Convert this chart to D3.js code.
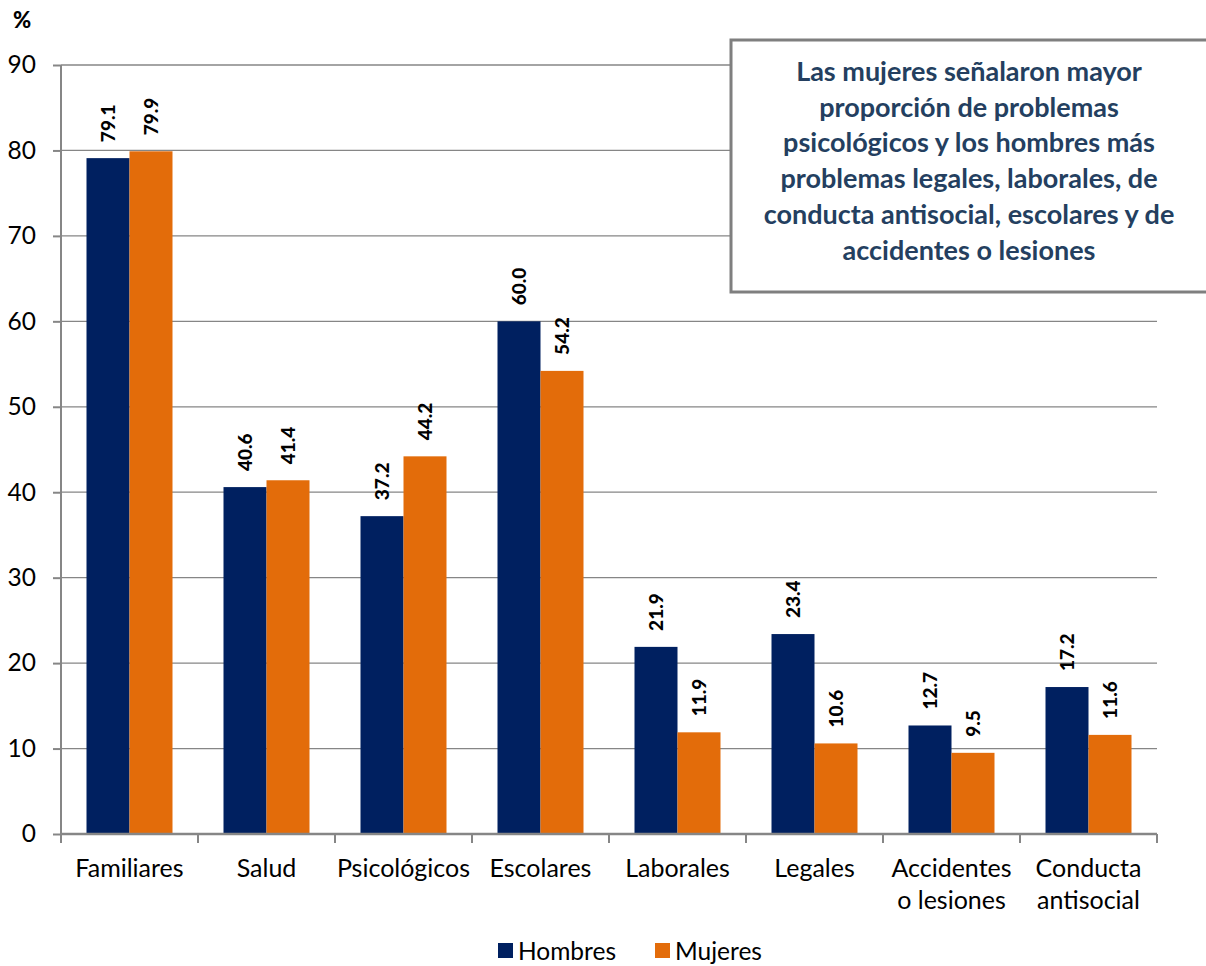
<!DOCTYPE html>
<html><head><meta charset="utf-8">
<script src="https://cdn.jsdelivr.net/npm/d3@7"></script>
<style>body{margin:0;background:#fff}svg{display:block;font-family:Lato,"Open Sans",sans-serif}</style>
</head><body>
<svg id="c" width="1206" height="966"></svg>
<script>
const categories = ["Familiares","Salud","Psicológicos","Escolares","Laborales","Legales","Accidentes\no lesiones","Conducta\nantisocial"];
const seriesNames = ["Hombres","Mujeres"];
const hombres = [79.1,40.6,37.2,60.0,21.9,23.4,12.7,17.2];
const mujeres = [79.9,41.4,44.2,54.2,11.9,10.6,9.5,11.6];
const yTicks = [0,10,20,30,40,50,60,70,80,90];
const annotation = ["Las mujeres señalaron mayor","proporción de problemas","psicológicos y los hombres más","problemas legales, laborales, de","conducta antisocial, escolares y de","accidentes o lesiones"];
const colors = ["#002060","#E36C0A"];

const svg = d3.select("#c");
const L = 61, R = 1157, T = 65, B = 834;
const y = d3.scaleLinear().domain([0,90]).range([B,T]);
const x = d3.scaleBand().domain(categories).range([L,R]).paddingInner(0).paddingOuter(0);
const bw = 43;
const xs = d3.scaleBand().domain(seriesNames).range([0, 2*bw]);
const off = (x.bandwidth() - 2*bw)/2;
const grey = "#868686";

// gridlines
svg.append("g").selectAll("line").data(yTicks.filter(d=>d>0)).join("line")
  .attr("x1",L).attr("x2",R).attr("y1",d=>y(d)).attr("y2",d=>y(d))
  .attr("stroke",grey).attr("stroke-width",1.3);

// bars
const data = [hombres, mujeres];
data.forEach((vals,si)=>{
  svg.append("g").selectAll("rect").data(vals).join("rect")
    .attr("x",(d,i)=>x(categories[i])+off+xs(seriesNames[si]))
    .attr("width",bw)
    .attr("y",d=>y(d)).attr("height",d=>B-y(d))
    .attr("fill",colors[si]);
  svg.append("g").selectAll("text").data(vals).join("text")
    .attr("transform",(d,i)=>`translate(${x(categories[i])+off+xs(seriesNames[si])+bw/2+7},${y(d)-16}) rotate(-90)`)
    .attr("font-weight","900").attr("font-size",19).attr("fill","#000")
    .text(d=>d.toFixed(1));
});

// y axis
const ya = svg.append("g").attr("transform",`translate(${L},0)`)
  .call(d3.axisLeft(y).tickValues(yTicks).tickSize(8).tickPadding(17).tickFormat(d3.format("d")));
ya.selectAll("line,path").attr("stroke",grey).attr("stroke-width",2);
ya.select(".domain").attr("d",`M0,${T}V${B}`);
ya.selectAll("text").attr("font-size",24.5).attr("fill","#000").attr("font-family","Lato");

// x axis
const xa = svg.append("g").attr("transform",`translate(0,${B})`);
xa.append("line").attr("x1",L).attr("x2",R).attr("y1",0).attr("y2",0).attr("stroke",grey).attr("stroke-width",2.5);
const bounds = categories.map(c=>x(c)).concat([R]);
xa.selectAll("line.t").data(bounds).join("line").attr("class","t")
  .attr("x1",d=>d).attr("x2",d=>d).attr("y1",0).attr("y2",9).attr("stroke",grey).attr("stroke-width",2);
xa.selectAll("text").data(categories).join("text")
  .attr("x",d=>x(d)+x.bandwidth()/2).attr("y",43)
  .attr("text-anchor","middle").attr("font-size",25).attr("fill","#000")
  .each(function(d){
    const parts = d.split("\n");
    d3.select(this).selectAll("tspan").data(parts).join("tspan")
      .attr("x",x(d)+x.bandwidth()/2).attr("dy",(p,i)=>i?32:0).text(p=>p);
  });

// % label
svg.append("text").attr("x",13).attr("y",28).attr("font-weight","900").attr("font-size",22).text("%");

// annotation
svg.append("rect").attr("x",731).attr("y",40).attr("width",520).attr("height",252)
  .attr("fill","#fff").attr("stroke","#7f7f7f").attr("stroke-width",3);
svg.append("g").selectAll("text").data(annotation).join("text")
  .attr("x",969).attr("y",(d,i)=>81+i*35.7).attr("text-anchor","middle")
  .attr("font-weight","bold").attr("font-size",27).attr("fill","#243F60").text(d=>d);

// legend
const lg = svg.append("g");
const lx = [498, 655];
seriesNames.forEach((s,i)=>{
  lg.append("rect").attr("x",lx[i]).attr("y",943).attr("width",15).attr("height",15).attr("fill",colors[i]);
  lg.append("text").attr("x",lx[i]+20).attr("y",960).attr("font-size",24.5).attr("fill","#000").text(s);
});
</script>
</body></html>
